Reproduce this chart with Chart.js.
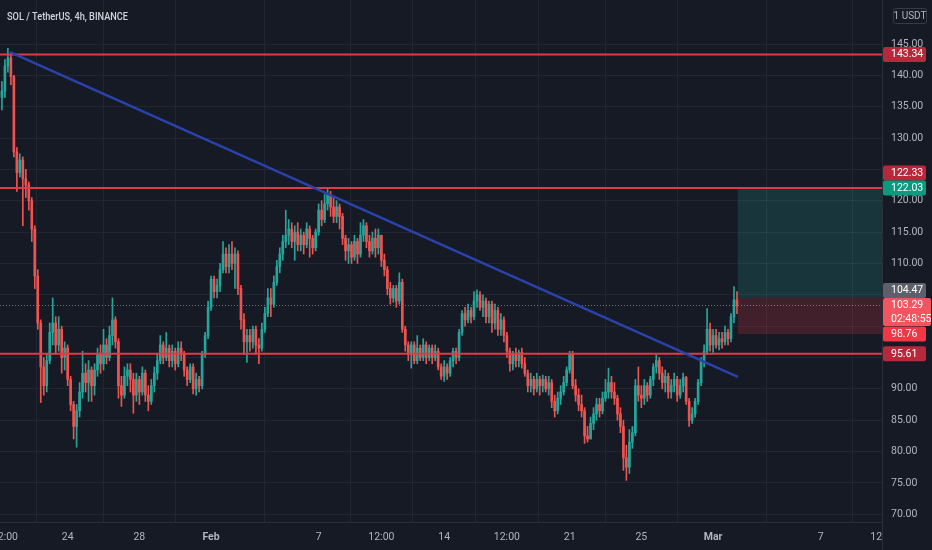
<!DOCTYPE html>
<html>
<head>
<meta charset="utf-8">
<title>SOL / TetherUS, 4h, BINANCE</title>
<script src="https://cdn.jsdelivr.net/npm/chart.js@4.4.1/dist/chart.umd.min.js"></script>
<style>
  html, body { margin: 0; padding: 0; background: #161a25; }
  #wrap { width: 932px; height: 550px; position: relative; }
</style>
</head>
<body>
<div id="wrap"><canvas id="solChart" width="932" height="550"></canvas></div>
<script>
/* ===== SOL/USDT 4h candles ===== */

// candle n opens where candle n-1 closed; only the very first open is given
const firstOpen = 136.5;

const closes = [
  137.5, 141.5, 142.8, 139.8, 127.8, 124.5, 126.5, 123.5, 122.5, 120,
  115.5, 108, 100.5, 93.5, 90.5, 94.5, 99, 100.5, 97, 99.5,
  95, 96.5, 91.5, 87.5, 84, 86.5, 89.5, 92.5, 91, 93,
  90.5, 93, 95.5, 94, 97, 95, 98.5, 101, 97.5, 90.5,
  89, 92, 93, 91.5, 89, 91.5, 89.5, 92.5, 89, 88,
  90.5, 92.5, 94.5, 97, 95, 96.5, 94.5, 96, 94, 96.5,
  95.5, 93, 91.5, 93.5, 90, 91.5, 90.5, 95.5, 98.5, 103,
  107.5, 105.5, 106.5, 109, 111.5, 109.5, 111.5, 110, 111.5, 106,
  101, 97.5, 98.5, 97.5, 99.5, 97, 96.5, 99.5, 102, 104.5,
  103.5, 107, 109.5, 111.5, 113.5, 114.5, 115.5, 113.5, 115, 113,
  114.5, 113, 115.5, 114, 112.5, 115, 118.5, 117, 119.5, 121,
  119, 117.5, 119, 117.5, 114, 112, 113, 111, 113.5, 111.5,
  114.5, 116, 113.5, 112, 114, 112.5, 114.5, 110.5, 109, 106,
  104.5, 106, 104, 107, 99.5, 97, 95.5, 97, 94.5, 96.5,
  95, 97, 95, 96.5, 95, 96, 93.5, 92, 93.5, 92.5,
  94.5, 96, 95, 99, 102, 101, 102.5, 101.5, 104, 105,
  103, 104, 101.5, 103.5, 100.5, 102.5, 99.5, 101, 98.5, 96,
  94, 95.5, 94.5, 95.8, 94, 92.5, 90.5, 91.5, 90, 91.5,
  90.5, 91.5, 90, 91, 88, 86.5, 88.5, 89.5, 91, 93,
  95.5, 90.5, 89, 87.5, 86.5, 82.5, 82, 84.5, 86, 87.5,
  86.5, 88.5, 89.5, 91, 89.5, 88.5, 86, 84, 79, 77.5,
  81.5, 83, 90.5, 89, 88.5, 90.5, 89, 91.5, 93.5, 94.5,
  92.5, 91, 92, 89.5, 90.5, 91.5, 89, 90.5, 91.8, 88,
  85, 86, 88, 91, 94.5, 96, 99.5, 97, 98.5, 97,
  98, 97.5, 99, 98, 101.5, 104.2, 103.29
];

const highs = [
  139, 142.5, 144.3, 143.5, 140, 128.5, 127.5, 127, 125, 123,
  120.5, 116, 109, 101, 95, 95.5, 100.5, 104.5, 101.5, 101.5,
  100, 97.5, 97, 92, 88, 87.5, 91, 96, 94, 94.5,
  93.5, 94, 96.5, 97, 99.5, 98, 100, 104.5, 101.5, 98,
  92, 93.5, 94, 94, 92.5, 92.5, 92, 93.5, 93, 90.5,
  91.5, 93.5, 95.5, 98.5, 97.5, 99, 97, 97, 96.5, 97.5,
  97.5, 96, 93.5, 94, 94, 92.5, 92, 96, 99, 104,
  108, 108, 107.5, 110, 113.5, 112.5, 113, 113.5, 112.5, 112,
  106.5, 102, 99.5, 99.5, 100, 100, 98, 100.5, 103, 106,
  106, 108, 110.5, 112.5, 114.5, 118.5, 117, 116.5, 116, 116.5,
  115.5, 115, 116.5, 116, 114.5, 115.5, 119.5, 120, 121, 122,
  121.5, 120.5, 120, 119.5, 118, 114.5, 114, 113.5, 114.5, 114,
  116.5, 117, 116.5, 114.5, 115, 115.5, 115.5, 114.5, 111.5, 109.5,
  107, 106.5, 106.5, 108.5, 107.5, 100, 97.5, 97.5, 97.5, 98.5,
  97, 98, 97.5, 97, 97, 97, 96.5, 94, 94.5, 94,
  95, 96.5, 96.5, 99.5, 102.5, 103, 103.5, 103, 105.5, 105.8,
  105.5, 105, 104.5, 104, 104, 103.5, 103, 102, 101.5, 99,
  96.5, 96, 96.5, 96.2, 96.5, 95, 93, 92.5, 92, 92.5,
  92, 92.2, 92, 92, 91.5, 89, 89.5, 90.5, 92, 93.5,
  96, 96, 91.5, 90, 89, 87, 84, 85.5, 87, 88.5,
  88.5, 89.5, 91.5, 93.3, 92, 91, 89, 87, 85, 81,
  83.5, 84, 91.5, 93.5, 90.5, 91.5, 91, 92, 94, 95.4,
  95, 93.5, 93, 92.5, 91.5, 92.5, 92, 91.5, 92.5, 92,
  88.5, 87, 88.5, 91.5, 95, 97, 102.8, 100.5, 99.5, 99.5,
  99, 99, 100, 99.5, 102, 106.3, 105.5
];

const lows = [
  134.5, 136.5, 140.5, 138.5, 127, 121.5, 123.8, 116, 120.5, 118.5,
  113.5, 106, 99.5, 87.8, 89, 89.5, 94, 97, 95.5, 96,
  92.5, 93, 90.5, 86.5, 82, 80.7, 85.5, 88.5, 89.5, 88,
  88, 89, 92, 92.5, 93, 94, 94.5, 97, 96.5, 88.5,
  87.2, 88.5, 90.5, 89.5, 86.1, 88, 87.5, 89, 88, 86.5,
  87.5, 89.5, 91.5, 94, 94, 94.5, 93.5, 93.5, 93, 93.5,
  94.5, 92, 90.5, 91, 89.2, 89, 89.5, 90, 95, 98,
  102.5, 104.5, 104.5, 105.5, 108.5, 108.5, 108.5, 109, 106, 105,
  99.5, 95.5, 94.2, 96, 96.5, 95.5, 94, 96, 99, 101.5,
  101.5, 103, 106.5, 108.5, 110.5, 112.5, 113, 112.5, 110.5, 112,
  112, 111.5, 112.5, 111, 111.5, 112, 114.5, 116, 116.5, 118.5,
  117.5, 116.5, 116.5, 115.5, 113, 110.5, 110, 110, 110.5, 110,
  111, 113.5, 112.5, 111, 111.5, 111, 111.5, 109.5, 108, 105,
  103.5, 103.8, 103, 103.5, 99, 96, 94.5, 93.3, 94, 94,
  94.5, 94.5, 94, 94.5, 94, 94.5, 93, 91.5, 91.2, 91.5,
  92, 93.5, 94, 94.5, 98.5, 100, 100.5, 100.5, 101, 103,
  102.5, 101.5, 100.5, 100.5, 99, 99.5, 98.5, 98.5, 97.5, 95,
  92.8, 93, 93.5, 93.5, 93.3, 92, 89.5, 89.5, 89, 89.5,
  89, 89.5, 89.5, 89, 87, 85.5, 86, 87.5, 89, 90.5,
  92.5, 90, 88, 86.5, 85.5, 81.3, 81.5, 82, 83.5, 85,
  85.5, 86, 88, 88.5, 88.5, 87.5, 85, 83, 77, 75.4,
  76.5, 80.5, 82.5, 88, 87, 87.5, 88, 88.5, 90.5, 92.5,
  91.5, 90, 89.5, 88.5, 88.5, 89.5, 88, 88.5, 89.5, 87.5,
  84, 84.5, 85.5, 87.5, 90.5, 93.5, 95.5, 96, 95.8, 96.5,
  96.2, 96.5, 97, 97, 97.5, 100.5, 102
];

// time axis: candle index (first candle = Jan 20 08:00, 6 per day)
const xTickValues = [1, 22, 46, 70, 106, 127, 148, 169, 190, 214, 238, 274, 295];
const xTickLabels = ['12:00', '24', '28', 'Feb', '7', '12:00', '14', '12:00', '21', '25', 'Mar', '7', '12:00'];

// price axis (labels hidden behind the price tags are left blank)
const yTickValues = [70, 75, 80, 85, 90, 95, 100, 105, 110, 115, 120, 125, 130, 135, 140, 145];
const yTickLabels = ['70.00', '75.00', '80.00', '85.00', '90.00', '', '', '', '110.00', '115.00', '120.00', '', '130.00', '135.00', '140.00', '145.00'];

// drawings
const levelPrices = [143.34, 122.03, 95.61];
const trendX = [2.7, 246.3];
const trendY = [143.7, 91.9];
const positionStart = 246.2;
const entryPrice = 104.47;
const targetPrice = 122.03;
const stopPrice = 98.76;
const lastPrice = 103.29;
const countdown = '02:48:55';

// price tags on the right axis
const tagPrices = [143.34, 122.33, 122.03, 104.47, 103.29, 98.76, 95.61];
const tagColors = ['#b7283a', '#b7283a', '#0b9980', '#5d606b', '#f15660', '#f23645', '#b7283a'];

const xMin = -0.64, xMax = 294.54;
const yMin = 68.76, yMax = 152.02;

const BG = '#161a25';
const GRID = '#222633';
const TEXT = '#b2b5be';
const UP = '#26a69a';
const DOWN = '#ef5350';

const opens = closes.map((c, i) => i === 0 ? firstOpen : closes[i - 1]);
const candleColors = closes.map((c, i) => c >= opens[i] ? UP : DOWN);

function hLine(price) {
  return [{ x: xMin, y: price }, { x: xMax, y: price }];
}

const tvPanel = {
  id: 'tvPanel',
  beforeDraw(chart) {
    const ctx = chart.ctx;
    ctx.save();
    ctx.fillStyle = BG;
    ctx.fillRect(0, 0, chart.width, chart.height);
    ctx.restore();
  },
  afterDatasetsDraw(chart) {
    // price scale panel sits over anything spilling past the plot
    const ctx = chart.ctx, a = chart.chartArea;
    ctx.save();
    ctx.fillStyle = BG;
    ctx.fillRect(a.right, 0, chart.width - a.right, chart.height);
    ctx.strokeStyle = '#2a2e39';
    ctx.lineWidth = 1;
    ctx.beginPath();
    ctx.moveTo(a.right + 0.5, 0);
    ctx.lineTo(a.right + 0.5, chart.height);
    ctx.moveTo(0, a.bottom + 0.5);
    ctx.lineTo(a.right, a.bottom + 0.5);
    ctx.stroke();
    ctx.restore();
  },
  afterDraw(chart) {
    const ctx = chart.ctx, a = chart.chartArea, y = chart.scales.y;
    ctx.save();

    // the screenshot's UI font is narrow, so squeeze the title a little
    ctx.save();
    ctx.translate(7, 20);
    ctx.scale(0.8, 1);
    ctx.fillStyle = '#d1d4dc';
    ctx.font = '500 11.5px Roboto';
    ctx.textBaseline = 'alphabetic';
    ctx.fillText('SOL / TetherUS, 4h, BINANCE', 0, 0);
    ctx.restore();

    ctx.strokeStyle = '#363a45';
    ctx.lineWidth = 1;
    ctx.beginPath();
    ctx.roundRect(893.5, 8.5, 33, 15, 2);
    ctx.stroke();
    ctx.fillStyle = TEXT;
    ctx.font = '10px Roboto';
    ctx.textAlign = 'center';
    ctx.textBaseline = 'middle';
    ctx.fillText('1 USDT', 910, 16.3);

    // tags: start at their price, then push up out of each other's way
    const tags = tagPrices.map((p, i) => {
      const h = p === lastPrice ? 28 : 15;
      return { p, color: tagColors[i], h, top: y.getPixelForValue(p) - 7.5 };
    }).sort((m, n) => m.top - n.top);
    for (let k = tags.length - 2; k >= 0; k--) {
      if (tags[k].top + tags[k].h > tags[k + 1].top) tags[k].top = tags[k + 1].top - tags[k].h;
    }
    ctx.font = '10.5px Roboto';
    ctx.textAlign = 'left';
    tags.forEach(t => {
      const w = t.p === lastPrice ? chart.width - a.right - 2 : 43;
      ctx.fillStyle = t.color;
      ctx.beginPath();
      ctx.roundRect(a.right + 1, t.top, w, t.h, 2);
      ctx.fill();
      ctx.fillStyle = '#ffffff';
      ctx.fillText(t.p.toFixed(2), a.right + 9, t.top + 7.8);
      if (t.p === lastPrice) ctx.fillText(countdown, a.right + 9, t.top + 21);
    });
    ctx.restore();
  }
};

new Chart(document.getElementById('solChart'), {
  type: 'bar',
  data: {
    datasets: [
      {
        type: 'line', data: [{ x: positionStart, y: targetPrice }, { x: xMax, y: targetPrice }],
        fill: { value: entryPrice }, backgroundColor: 'rgba(38,166,154,0.2)',
        borderWidth: 0, pointRadius: 0, order: 20
      },
      {
        type: 'line', data: [{ x: positionStart, y: stopPrice }, { x: xMax, y: stopPrice }],
        fill: { value: entryPrice }, backgroundColor: 'rgba(242,54,69,0.2)',
        borderWidth: 0, pointRadius: 0, order: 19
      },
      {
        type: 'line', data: hLine(lastPrice), borderColor: 'rgba(150,154,165,0.7)',
        borderWidth: 1, borderDash: [1, 2], pointRadius: 0, order: 18
      },
      {
        data: closes.map((c, i) => ({ x: i, y: [lows[i], highs[i]] })),
        backgroundColor: candleColors, barThickness: 1, grouped: false, order: 6
      },
      {
        data: closes.map((c, i) => ({ x: i, y: [opens[i], c] })),
        backgroundColor: candleColors, barThickness: 2, minBarLength: 1, grouped: false, order: 5
      },
      ...levelPrices.map(p => ({
        type: 'line', data: hLine(p), borderColor: '#e03a47',
        borderWidth: 2, pointRadius: 0, order: 2
      })),
      {
        type: 'line', data: trendX.map((x, i) => ({ x, y: trendY[i] })),
        borderColor: '#2a42ad', borderWidth: 2.5, pointRadius: 0, order: 1
      }
    ]
  },
  options: {
    responsive: false,
    animation: false,
    events: [],
    layout: { padding: 0 },
    plugins: { legend: { display: false }, tooltip: { enabled: false } },
    scales: {
      x: {
        type: 'linear', min: xMin, max: xMax, offset: false,
        grid: { color: GRID, drawTicks: false },
        border: { display: false },
        ticks: {
          autoSkip: false, maxRotation: 0, padding: 9, color: TEXT,
          font: ctx => ({ family: 'Roboto', size: 10.5, weight: ['Feb', 'Mar'].includes(xTickLabels[ctx.index]) ? 'bold' : 'normal' }),
          callback: (v, i) => xTickLabels[i]
        },
        afterBuildTicks: s => { s.ticks = xTickValues.map(v => ({ value: v })); },
        afterFit: s => { s.height = 28; s.paddingLeft = 0; s.paddingRight = 0; }
      },
      y: {
        type: 'linear', position: 'right', min: yMin, max: yMax,
        grid: { color: GRID, drawTicks: false },
        border: { display: false },
        ticks: {
          padding: 9, color: TEXT, z: 1,
          font: { family: 'Roboto', size: 10.5 },
          callback: (v, i) => yTickLabels[i]
        },
        afterBuildTicks: s => { s.ticks = yTickValues.map(v => ({ value: v })); },
        afterFit: s => { s.width = 50; s.paddingTop = 0; s.paddingBottom = 0; }
      }
    }
  },
  plugins: [tvPanel]
});
</script>
</body>
</html>
